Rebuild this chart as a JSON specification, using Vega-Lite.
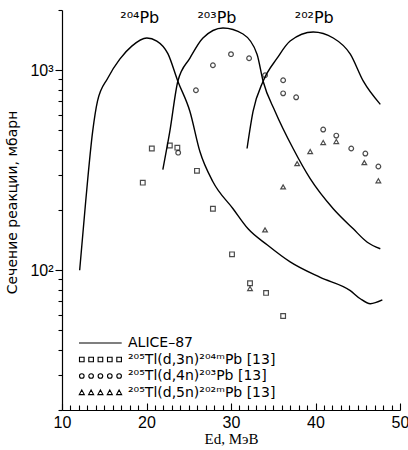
{
  "$schema": "https://vega.github.io/schema/vega-lite/v6.json",
  "width": 338,
  "height": 400,
  "autosize": "none",
  "padding": {"left": 62, "top": 10, "right": 8, "bottom": 40},
  "background": "white",
  "config": {
    "view": {"stroke": null},
    "font": "Liberation Sans",
    "axis": {"domainColor": "black", "tickColor": "black", "labelColor": "black", "titleColor": "black", "grid": false, "domainWidth": 1.2, "tickWidth": 1.1}
  },
  "datasets": {
    "curves": [
      {"series": "204", "E": 12.09, "sigma": 100},
      {"series": "204", "E": 12.8, "sigma": 220},
      {"series": "204", "E": 13.63, "sigma": 494},
      {"series": "204", "E": 14.2, "sigma": 700},
      {"series": "204", "E": 15.41, "sigma": 912},
      {"series": "204", "E": 16.84, "sigma": 1136},
      {"series": "204", "E": 18.26, "sigma": 1320},
      {"series": "204", "E": 20.04, "sigma": 1449},
      {"series": "204", "E": 21.22, "sigma": 1399},
      {"series": "204", "E": 22.53, "sigma": 1210},
      {"series": "204", "E": 23.71, "sigma": 881},
      {"series": "204", "E": 25.14, "sigma": 622},
      {"series": "204", "E": 26.32, "sigma": 392},
      {"series": "204", "E": 27.86, "sigma": 277},
      {"series": "204", "E": 30.24, "sigma": 203},
      {"series": "204", "E": 32.02, "sigma": 161},
      {"series": "204", "E": 34.27, "sigma": 134},
      {"series": "204", "E": 37.0, "sigma": 110},
      {"series": "204", "E": 40.56, "sigma": 92},
      {"series": "204", "E": 44.12, "sigma": 79},
      {"series": "204", "E": 45.3, "sigma": 72},
      {"series": "204", "E": 46.49, "sigma": 68},
      {"series": "204", "E": 47.91, "sigma": 71},
      {"series": "203", "E": 21.93, "sigma": 318},
      {"series": "203", "E": 22.76, "sigma": 494},
      {"series": "203", "E": 23.71, "sigma": 881},
      {"series": "203", "E": 25.14, "sigma": 1149},
      {"series": "203", "E": 26.68, "sigma": 1449},
      {"series": "203", "E": 29.05, "sigma": 1626},
      {"series": "203", "E": 31.42, "sigma": 1517},
      {"series": "203", "E": 33.08, "sigma": 1203},
      {"series": "203", "E": 33.8, "sigma": 881},
      {"series": "203", "E": 35.22, "sigma": 622},
      {"series": "203", "E": 37.35, "sigma": 406},
      {"series": "203", "E": 39.37, "sigma": 287},
      {"series": "203", "E": 42.1, "sigma": 203},
      {"series": "203", "E": 44.47, "sigma": 161},
      {"series": "203", "E": 46.13, "sigma": 138},
      {"series": "203", "E": 47.67, "sigma": 128},
      {"series": "202", "E": 31.9, "sigma": 406},
      {"series": "202", "E": 32.61, "sigma": 622},
      {"series": "202", "E": 33.8, "sigma": 881},
      {"series": "202", "E": 35.46, "sigma": 1148},
      {"series": "202", "E": 37.0, "sigma": 1399},
      {"series": "202", "E": 39.73, "sigma": 1552},
      {"series": "202", "E": 42.1, "sigma": 1449},
      {"series": "202", "E": 44.12, "sigma": 1203},
      {"series": "202", "E": 45.66, "sigma": 881},
      {"series": "202", "E": 47.67, "sigma": 675}
    ],
    "points": [
      {"legend": "²⁰⁵Tl(d,3n)²⁰⁴ᵐPb  [13]", "E": 19.56, "sigma": 274},
      {"legend": "²⁰⁵Tl(d,3n)²⁰⁴ᵐPb  [13]", "E": 20.63, "sigma": 406},
      {"legend": "²⁰⁵Tl(d,3n)²⁰⁴ᵐPb  [13]", "E": 22.76, "sigma": 420},
      {"legend": "²⁰⁵Tl(d,3n)²⁰⁴ᵐPb  [13]", "E": 23.65, "sigma": 410},
      {"legend": "²⁰⁵Tl(d,3n)²⁰⁴ᵐPb  [13]", "E": 25.97, "sigma": 314},
      {"legend": "²⁰⁵Tl(d,3n)²⁰⁴ᵐPb  [13]", "E": 27.86, "sigma": 203},
      {"legend": "²⁰⁵Tl(d,3n)²⁰⁴ᵐPb  [13]", "E": 30.12, "sigma": 120},
      {"legend": "²⁰⁵Tl(d,3n)²⁰⁴ᵐPb  [13]", "E": 32.25, "sigma": 86},
      {"legend": "²⁰⁵Tl(d,3n)²⁰⁴ᵐPb  [13]", "E": 34.15, "sigma": 77},
      {"legend": "²⁰⁵Tl(d,3n)²⁰⁴ᵐPb  [13]", "E": 36.17, "sigma": 59},
      {"legend": "²⁰⁵Tl(d,4n)²⁰³Pb  [13]", "E": 23.75, "sigma": 387},
      {"legend": "²⁰⁵Tl(d,4n)²⁰³Pb  [13]", "E": 25.85, "sigma": 794},
      {"legend": "²⁰⁵Tl(d,4n)²⁰³Pb  [13]", "E": 27.86, "sigma": 1059},
      {"legend": "²⁰⁵Tl(d,4n)²⁰³Pb  [13]", "E": 30.0, "sigma": 1203},
      {"legend": "²⁰⁵Tl(d,4n)²⁰³Pb  [13]", "E": 32.14, "sigma": 1148},
      {"legend": "²⁰⁵Tl(d,4n)²⁰³Pb  [13]", "E": 34.03, "sigma": 944},
      {"legend": "²⁰⁵Tl(d,4n)²⁰³Pb  [13]", "E": 36.17, "sigma": 891},
      {"legend": "²⁰⁵Tl(d,4n)²⁰³Pb  [13]", "E": 36.17, "sigma": 766},
      {"legend": "²⁰⁵Tl(d,4n)²⁰³Pb  [13]", "E": 37.71, "sigma": 732},
      {"legend": "²⁰⁵Tl(d,4n)²⁰³Pb  [13]", "E": 40.91, "sigma": 505},
      {"legend": "²⁰⁵Tl(d,4n)²⁰³Pb  [13]", "E": 42.46, "sigma": 471},
      {"legend": "²⁰⁵Tl(d,4n)²⁰³Pb  [13]", "E": 44.23, "sigma": 406},
      {"legend": "²⁰⁵Tl(d,4n)²⁰³Pb  [13]", "E": 45.9, "sigma": 383},
      {"legend": "²⁰⁵Tl(d,4n)²⁰³Pb  [13]", "E": 47.44, "sigma": 330},
      {"legend": "²⁰⁵Tl(d,5n)²⁰²ᵐPb  [13]", "E": 32.25, "sigma": 81},
      {"legend": "²⁰⁵Tl(d,5n)²⁰²ᵐPb  [13]", "E": 34.03, "sigma": 159},
      {"legend": "²⁰⁵Tl(d,5n)²⁰²ᵐPb  [13]", "E": 36.17, "sigma": 261},
      {"legend": "²⁰⁵Tl(d,5n)²⁰²ᵐPb  [13]", "E": 37.83, "sigma": 341},
      {"legend": "²⁰⁵Tl(d,5n)²⁰²ᵐPb  [13]", "E": 39.37, "sigma": 392},
      {"legend": "²⁰⁵Tl(d,5n)²⁰²ᵐPb  [13]", "E": 40.91, "sigma": 435},
      {"legend": "²⁰⁵Tl(d,5n)²⁰²ᵐPb  [13]", "E": 42.46, "sigma": 440},
      {"legend": "²⁰⁵Tl(d,5n)²⁰²ᵐPb  [13]", "E": 45.78, "sigma": 345},
      {"legend": "²⁰⁵Tl(d,5n)²⁰²ᵐPb  [13]", "E": 47.44, "sigma": 280}
    ],
    "labels": [
      {"label": "²⁰⁴Pb", "E": 19.2, "sigma": 1824},
      {"label": "²⁰³Pb", "E": 28.34, "sigma": 1824},
      {"label": "²⁰²Pb", "E": 39.85, "sigma": 1824}
    ]
  },
  "encoding": {
    "x": {
      "field": "E", "type": "quantitative",
      "scale": {"domain": [10, 50], "nice": false, "zero": false},
      "axis": {
        "values": [10,11,12,13,14,15,16,17,18,19,20,21,22,23,24,25,26,27,28,29,30,31,32,33,34,35,36,37,38,39,40,41,42,43,44,45,46,47,48,49,50],
        "labelExpr": "datum.value % 10 == 0 ? datum.label : ''",
        "tickSize": {"condition": {"test": "datum.value % 10 == 0", "value": -7}, "value": -5},
        "labelFontSize": 16,
        "labelPadding": 11,
        "labelFlush": false,
        "title": "Ed,  МэВ",
        "titleFont": "Liberation Serif",
        "titleFontSize": 15,
        "titleFontWeight": "normal",
        "titleY": 33,
        "titleBaseline": "alphabetic"
      }
    },
    "y": {
      "field": "sigma", "type": "quantitative",
      "scale": {"type": "log", "domain": [20, 2000], "nice": false},
      "axis": {
        "values": [20,30,40,50,60,70,80,90,100,200,300,400,500,600,700,800,900,1000,2000],
        "labelExpr": "datum.value == 1000 ? '10³' : datum.value == 100 ? '10²' : ''",
        "tickSize": {"condition": {"test": "datum.value == 100 || datum.value == 1000", "value": 7}, "value": 4},
        "labelFontSize": 16,
        "labelPadding": 2,
        "title": "Сечение реакции, мбарн",
        "titleFont": "DejaVu Sans",
        "titleFontSize": 14,
        "titleFontWeight": "normal",
        "titleAngle": 270,
        "titleX": -50,
        "titleY": 192,
        "titleAlign": "center",
        "titleBaseline": "middle"
      }
    }
  },
  "layer": [
    {
      "data": {"name": "curves"},
      "mark": {"type": "line", "color": "black", "strokeWidth": 1.4, "interpolate": "monotone"},
      "encoding": {"detail": {"field": "series", "type": "nominal"}}
    },
    {
      "data": {"name": "points"},
      "mark": {"type": "point", "filled": false, "color": "black", "strokeWidth": 1.2, "size": 22},
      "encoding": {
        "shape": {
          "field": "legend", "type": "nominal",
          "scale": {"domain": ["²⁰⁵Tl(d,3n)²⁰⁴ᵐPb  [13]", "²⁰⁵Tl(d,4n)²⁰³Pb  [13]", "²⁰⁵Tl(d,5n)²⁰²ᵐPb  [13]"], "range": ["square", "circle", "triangle-up"]},
          "legend": null
        }
      }
    },
    {
      "data": {"name": "points"},
      "mark": {"type": "point", "filled": false, "color": "black", "opacity": 0},
      "encoding": {
        "shape": {
          "field": "legend", "type": "nominal",
          "scale": {
            "domain": ["ALICE–87", "²⁰⁵Tl(d,3n)²⁰⁴ᵐPb  [13]", "²⁰⁵Tl(d,4n)²⁰³Pb  [13]", "²⁰⁵Tl(d,5n)²⁰²ᵐPb  [13]"],
            "range": [
              "M-1,0H5.1",
              "M-0.93,-0.33h0.66v0.66h-0.66zM0.4,-0.33h0.66v0.66h-0.66zM1.73,-0.33h0.66v0.66h-0.66zM3.07,-0.33h0.66v0.66h-0.66zM4.4,-0.33h0.66v0.66h-0.66z",
              "M-0.93,0a0.33,0.33 0 1,0 0.66,0a0.33,0.33 0 1,0 -0.66,0zM0.4,0a0.33,0.33 0 1,0 0.66,0a0.33,0.33 0 1,0 -0.66,0zM1.73,0a0.33,0.33 0 1,0 0.66,0a0.33,0.33 0 1,0 -0.66,0zM3.07,0a0.33,0.33 0 1,0 0.66,0a0.33,0.33 0 1,0 -0.66,0zM4.4,0a0.33,0.33 0 1,0 0.66,0a0.33,0.33 0 1,0 -0.66,0z",
              "M-0.6,-0.36L-0.24,0.3L-0.96,0.3zM0.73,-0.36L1.09,0.3L0.37,0.3zM2.06,-0.36L2.42,0.3L1.7,0.3zM3.4,-0.36L3.76,0.3L3.04,0.3zM4.73,-0.36L5.09,0.3L4.37,0.3z"
            ]
          },
          "legend": {
            "orient": "none",
            "legendX": 16,
            "legendY": 325,
            "title": null,
            "symbolSize": 196,
            "symbolStrokeColor": "black",
            "symbolFillColor": "transparent",
            "symbolStrokeWidth": 1.1,
            "symbolOpacity": 1,
            "labelFontSize": 14,
            "labelFont": "DejaVu Sans",
            "labelColor": "black",
            "labelOffset": 34,
            "labelLimit": 300,
            "rowPadding": 1.5
          }
        }
      }
    },
    {
      "data": {"name": "labels"},
      "mark": {"type": "text", "fontSize": 16, "font": "DejaVu Sans", "color": "black", "baseline": "middle", "align": "center"},
      "encoding": {"text": {"field": "label", "type": "nominal"}}
    }
  ],
  "resolve": {"scale": {"shape": "independent"}, "legend": {"shape": "independent"}}
}
